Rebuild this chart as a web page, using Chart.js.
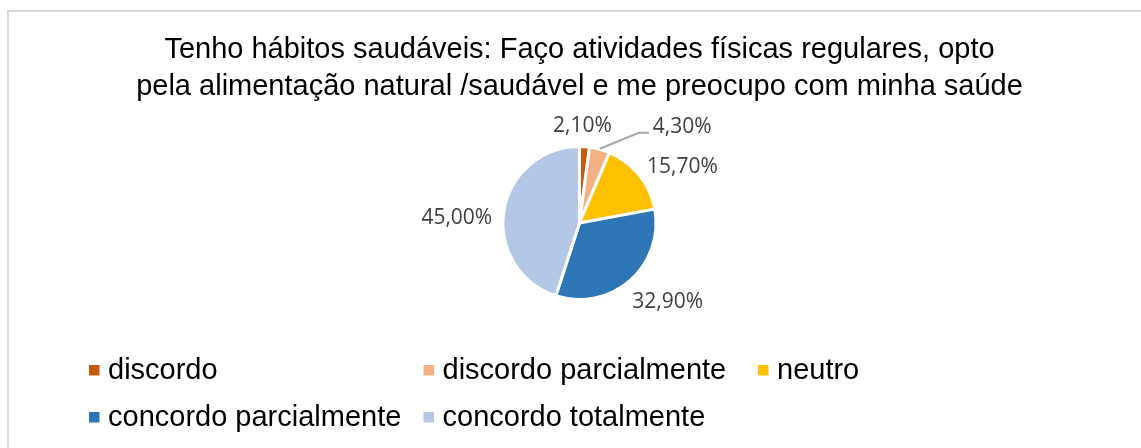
<!DOCTYPE html>
<html>
<head>
<meta charset="utf-8">
<title>Tenho hábitos saudáveis</title>
<script src="https://cdn.jsdelivr.net/npm/chart.js@4.4.1/dist/chart.umd.min.js"></script>
<style>
  html, body { margin: 0; padding: 0; background: #fff; }
  canvas { display: block; }
</style>
</head>
<body>
<canvas id="chart_habitos" width="1141" height="448"></canvas>
<script>
// data
const categorias = ['discordo', 'discordo parcialmente', 'neutro', 'concordo parcialmente', 'concordo totalmente'];
const percentuais = [2.1, 4.3, 15.7, 32.9, 45.0];
const tituloLinhas = ['Tenho hábitos saudáveis: Faço atividades físicas regulares, opto',
                      'pela alimentação natural /saudável e me preocupo com minha saúde'];

const cores = ['#C55A11', '#F4B183', '#FFC000', '#2E75B6', '#B4C7E7'];
// small tweaks so the labels sit where Excel put them (best fit)
const ajusteRotulo = [[-4, 8], [75, 5], [21, 10], [19, 0], [-19, 11]];

const ctx_habitos = document.getElementById('chart_habitos');

function fmtPct ( v ) {
  return v.toFixed(2).replace('.', ',') + '%';
}

// frame: only top and left edges are visible in the picture
const molduraPlugin = {
  id: 'moldura',
  beforeDraw (chart) {
    const c = chart.ctx;
    c.save();
    c.fillStyle = '#D9D9D9';
    c.fillRect(7, 10, chart.width - 7, 2);
    c.fillRect(7, 10, 2, chart.height - 10);
    c.restore();
  }
};

const rotulosPlugin = {
  id: 'rotulos',
  afterDatasetsDraw (chart) {
    const c = chart.ctx;
    const meta = chart.getDatasetMeta(0);
    const valores = chart.data.datasets[0].data;
    c.save();
    c.font = '21px "Open Sans"';
    c.fillStyle = '#404040';
    c.textAlign = 'center';
    c.textBaseline = 'middle';
    meta.data.forEach(function (arc, i) {
      const p = arc.getProps(['x', 'y', 'startAngle', 'endAngle', 'outerRadius'], true);
      const meio = (p.startAngle + p.endAngle) / 2;
      const rv = p.outerRadius - 1.5;
      const dx = Math.cos(meio), dy = Math.sin(meio);
      const lx = p.x + (rv + 30) * dx + ajusteRotulo[i][0];
      const ly = p.y + (rv + 30) * dy + ajusteRotulo[i][1];
      const txt = fmtPct(valores[i]);
      c.fillText(txt, lx, ly);
      // leader line when the label was pushed far away
      if ( Math.abs(ajusteRotulo[i][0]) > 40 ) {
        const esq = lx - c.measureText(txt).width / 2;
        c.strokeStyle = '#A6A6A6';
        c.lineWidth = 2;
        c.beginPath();
        c.moveTo(p.x + (rv + 2) * dx, p.y + (rv + 2) * dy);
        c.lineTo(esq - 14, ly + 6);
        c.lineTo(esq - 4, ly + 6);
        c.stroke();
      }
    });
    c.restore();
  }
};

// legend in fixed columns, like the Excel one
const legendaPlugin = {
  id: 'legendaColunas',
  afterDraw (chart) {
    const c = chart.ctx;
    const ds = chart.data.datasets[0];
    c.save();
    c.font = '29px "Liberation Sans", Arial, sans-serif';
    c.textAlign = 'left';
    c.textBaseline = 'middle';
    chart.data.labels.forEach(function (nome, i) {
      const col = i % 3, lin = Math.floor(i / 3);
      const x = 89 + col * 334.5;
      const y = 370 + lin * 47;
      c.fillStyle = ds.backgroundColor[i];
      c.fillRect(x, y - 5, 10.5, 10.5);
      c.fillStyle = '#000';
      c.fillText(nome, x + 19, y + 1);
    });
    c.restore();
  }
};

const configHabitos = {
  type: 'pie',
  data: {
    labels: categorias,
    datasets: [{
      data: percentuais,
      backgroundColor: cores,
      borderColor: '#FFFFFF',
      borderWidth: 3,
      hoverOffset: 0
    }]
  },
  options: {
    responsive: false,
    animation: false,
    events: [],
    layout: {
      padding: { top: 10, bottom: 147, left: 18, right: 0 }
    },
    plugins: {
      legend: { display: false },
      tooltip: { enabled: false },
      title: {
        display: true,
        text: tituloLinhas,
        color: '#000',
        font: { family: '"Liberation Sans", Arial, sans-serif', size: 29, weight: 'normal', lineHeight: 1.276 },
        padding: { top: 21.5, bottom: 39.5 }
      }
    }
  },
  plugins: [molduraPlugin, rotulosPlugin, legendaPlugin]
};

const chartHabitos = new Chart(ctx_habitos, configHabitos);
</script>
</body>
</html>
